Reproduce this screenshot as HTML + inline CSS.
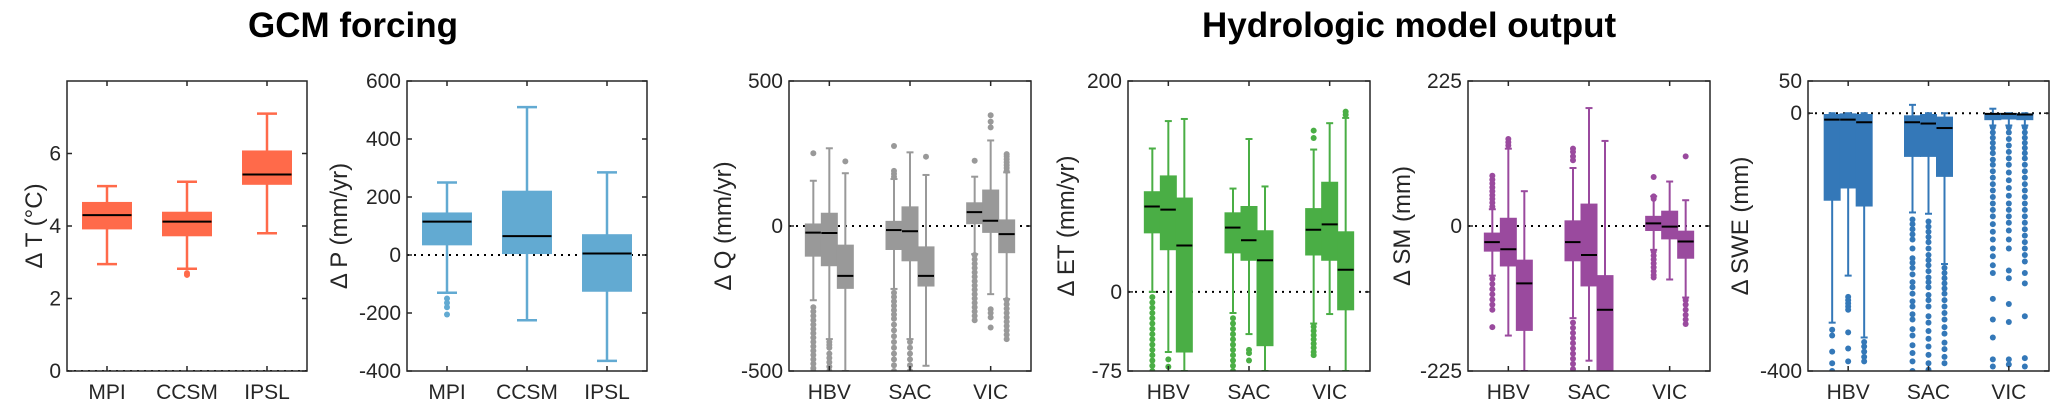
<!DOCTYPE html>
<html><head><meta charset="utf-8"><style>
html,body{margin:0;padding:0;background:#fff;}
svg{display:block;font-family:"Liberation Sans",Arial,sans-serif;}
</style></head><body>
<svg id="fig" width="2067" height="411" viewBox="0 0 2067 411">
<text x="248" y="37" font-size="35" font-weight="bold" fill="#000">GCM forcing</text>
<text x="1202" y="37" font-size="35" font-weight="bold" fill="#000">Hydrologic model output</text>
</svg>
<script>
// ---- data: each box = [lowerWhisker, q1, median, q3, upperWhisker] ----
const gcmCategories = ["MPI","CCSM","IPSL"];
const hydroCategories = ["HBV","SAC","VIC"];

const tStats = [[[2.95,3.92,4.3,4.65,5.1]],[[2.82,3.73,4.12,4.38,5.22]],[[3.8,5.15,5.42,6.07,7.1]]];
const tOut = [[[]],[[2.65,2.7]],[[]]];
const tTicks = [0,2,4,6];

const pStats = [[[-130,35,115,145,250]],[[-225,5,65,220,510]],[[-365,-125,5,70,285]]];
const pOut = [[[-150,-165,-180,-205]],[[]],[[]]];
const pTicks = [-400,-200,0,200,400,600];

const qStats = [
 [[-256,-104,-23,7,156],[-390,-137,-24,44,268],[-500,-215,-172,-66,182]],
 [[-217,-81,-14,16,162],[-390,-120,-18,66,254],[-482,-207,-172,-72,176]],
 [[-97,8,48,80,170],[-235,-22,18,124,295],[-252,-92,-28,21,185]]];
const qOut = [
 [[251,-280,-295,-310,-325,-340,-355,-370,-385,-400,-415,-430,-445,-460,-475,-490,-500],[-400,-410,-420,-440,-455,-470,-485,-500],[223]],
 [[276,170,180,190,-230,-245,-260,-275,-290,-305,-320,-340,-360,-380,-400,-420,-440,-460,-480,-500],[-400,-420,-440,-460,-480,-500],[239]],
 [[225,-100,-115,-130,-145,-160,-175,-190,-205,-220,-235,-250,-265,-280,-295,-310,-325],[382,360,340,-287,-300,-315,-350],[248,240,230,220,210,200,190,-255,-270,-285,-300,-315,-330,-345,-360,-375,-390]]];
const qTicks = [-500,0,500];

const etStats = [
 [[0,56,81,95,136],[-57,40,78,110,162],[-75,-57,44,89,164]],
 [[-20,37,61,75,98],[-40,30,49,81,145],[-75,-51,30,58,100]],
 [[-30,35,59,79,135],[-21,30,64,104,160],[-75,-17,21,57,165]]];
const etOut = [
 [[-5,-10,-15,-20,-25,-30,-35,-40,-45,-50,-55,-60,-65,-70,-75],[-64,-71],[]],
 [[-25,-30,-35,-40,-45,-50,-55,-60,-65,-70,-75],[-55,-58,-65],[]],
 [[153,146,-33,-37,-41,-45,-49,-53,-57,-60],[],[171,168]]];
const etTicks = [-75,0,200];

const smStats = [
 [[-77,-39,-25,-11,26],[-170,-62,-36,12,120],[-225,-162,-89,-53,54]],
 [[-143,-54,-25,8,90],[-209,-93,-45,34,183],[-225,-225,-130,-77,132]],
 [[-37,-7,4,15,46],[-83,-20,-1,23,69],[-111,-50,-24,-8,40]]];
const smOut = [
 [[78,72,66,60,54,48,42,36,30,-82,-90,-98,-106,-114,-122,-130,-157],[135,130,125],[]],
 [[120,115,108,102,-150,-158,-166,-174,-182,-190,-198,-206,-214,-222],[],[]],
 [[76,46,42,-40,-46,-52,-58,-64,-70,-76,-80],[],[108,-115,-122,-130,-138,-145,-152]]];
const smTicks = [-225,0,225];

const sweStats = [
 [[-325,-135,-10,-2,0],[-252,-116,-10,-1,0],[-348,-144,-14,-2,0]],
 [[-154,-67,-14,-4,13],[-156,-67,-16,-2,0],[-234,-98,-23,-6,0]],
 [[-19,-10,-1,-1,7],[-19,-9,-1,-1,0],[-19,-10,-2,-1,0]]];
const sweOut = [
 [[-336,-345,-370,-388,-400],[-285,-290,-295,-300,-305,-340,-365,-385],[-355,-362,-370,-378,-385]],
 [[-165,-172,-180,-188,-196,-210,-225,-232,-240,-250,-262,-270,-280,-292,-300,-312,-320,-335,-345,-360,-372,-385,-400],[-168,-176,-184,-192,-200,-210,-220,-228,-236,-245,-255,-262,-270,-282,-290,-300,-315,-325,-338,-350,-362,-375,-388,-398],[-240,-248,-256,-264,-272,-280,-290,-300,-310,-320,-332,-342,-356,-366,-378,-388]],
 [[-22,-30,-38,-46,-54,-62,-72,-80,-90,-100,-110,-120,-130,-140,-150,-160,-172,-184,-196,-210,-222,-236,-248,-288,-320,-348,-382,-393],[-22,-30,-40,-50,-60,-70,-80,-92,-104,-116,-128,-140,-150,-160,-170,-182,-196,-210,-244,-256,-296,-324,-382,-390],[-22,-30,-38,-46,-54,-62,-70,-80,-90,-100,-110,-120,-130,-140,-150,-160,-170,-180,-190,-200,-210,-220,-230,-248,-264,-315,-380,-393]]];
const sweTicks = [-400,0,50];

// ---- drawing ----
const NS = "http://www.w3.org/2000/svg";
const svg = document.getElementById("fig");
function mk(tag, attrs, parent){
  const e = document.createElementNS(NS, tag);
  for (const k in attrs) e.setAttribute(k, attrs[k]);
  (parent||svg).appendChild(e);
  return e;
}
let clipId = 0;
function panel(cfg, cats, stats, outs, ticks){
  const {x0,x1,y0,y1,ymin,ymax,color,name,ylabel,ylx,offs,bw,cap,lw} = cfg;
  const g = mk("g", {});
  
  
  const ys = v => y0 + (ymax - v) / (ymax - ymin) * (y1 - y0);
  const step = (x1 - x0) / cats.length;
  const xs = i => x0 + step * (i + 0.5);
  clipId++;
  const cp = mk("clipPath", {id: "c" + clipId}, g);
  mk("rect", {x: x0, y: y0, width: x1 - x0, height: y1 - y0}, cp);
  const plot = mk("g", {"clip-path": "url(#c" + clipId + ")"}, g);
  const zl = mk("line", {x1: x0, x2: x1, y1: ys(0), y2: ys(0), stroke: "#000", "stroke-width": 2, "stroke-dasharray": "2,5"}, plot);
  
  
  stats.forEach((cat, i) => {
    cat.forEach((b, j) => {
      const cx = xs(i) + offs[j];
      const bg = mk("g", {}, plot);
      
      
      mk("line", {x1: cx, x2: cx, y1: ys(b[0]), y2: ys(b[4]), stroke: color, "stroke-width": lw}, bg);
      mk("line", {x1: cx - cap/2, x2: cx + cap/2, y1: ys(b[0]), y2: ys(b[0]), stroke: color, "stroke-width": lw}, bg);
      mk("line", {x1: cx - cap/2, x2: cx + cap/2, y1: ys(b[4]), y2: ys(b[4]), stroke: color, "stroke-width": lw}, bg);
      mk("rect", {x: cx - bw/2, y: ys(b[3]), width: bw, height: Math.max(1, ys(b[1]) - ys(b[3])), fill: color, stroke: color, "stroke-width": 1}, bg);
      mk("line", {x1: cx - bw/2, x2: cx + bw/2, y1: ys(b[2]), y2: ys(b[2]), stroke: "#000", "stroke-width": 2}, bg);
      outs[i][j].forEach(v => {
        const c = mk("circle", {cx: cx, cy: ys(v), r: 3, fill: color}, bg);
        
        
      });
    });
  });
  const ax = mk("rect", {x: x0, y: y0, width: x1 - x0, height: y1 - y0, fill: "none", stroke: "#262626", "stroke-width": 1.5}, g);
  
  
  cats.forEach((c, i) => {
    const x = xs(i);
    mk("line", {x1: x, x2: x, y1: y1, y2: y1 - 5, stroke: "#262626", "stroke-width": 1.5}, g);
    mk("line", {x1: x, x2: x, y1: y0, y2: y0 + 5, stroke: "#262626", "stroke-width": 1.5}, g);
    const t = mk("text", {x: x, y: y1 + 28, "font-size": 21, "text-anchor": "middle", fill: "#262626"}, g);
    t.textContent = c;
    
    
  });
  ticks.forEach(v => {
    const y = ys(v);
    mk("line", {x1: x0, x2: x0 + 5, y1: y, y2: y, stroke: "#262626", "stroke-width": 1.5}, g);
    mk("line", {x1: x1, x2: x1 - 5, y1: y, y2: y, stroke: "#262626", "stroke-width": 1.5}, g);
    const t = mk("text", {x: x0 - 6, y: y + 7, "font-size": 21, "text-anchor": "end", fill: "#262626"}, g);
    t.textContent = String(v);
    
    
  });
  const yl = mk("text", {x: ylx, y: (y0 + y1) / 2, "font-size": 24, "text-anchor": "middle", fill: "#262626", transform: "rotate(-90 " + ylx + " " + (y0 + y1) / 2 + ")"}, g);
  yl.textContent = ylabel;
  
  
}
const Y0 = 81, Y1 = 371;
panel({x0:67,x1:307,y0:Y0,y1:Y1,ymin:0,ymax:8,color:"#FF6A4A",name:"temperature",ylabel:"\u0394 T (\u00B0C)",ylx:42,offs:[0],bw:49,cap:20,lw:2.5}, gcmCategories, tStats, tOut, tTicks);
panel({x0:407,x1:647,y0:Y0,y1:Y1,ymin:-400,ymax:600,color:"#62AAD2",name:"precipitation",ylabel:"\u0394 P (mm/yr)",ylx:347,offs:[0],bw:49,cap:20,lw:2.5}, gcmCategories, pStats, pOut, pTicks);
panel({x0:789,x1:1031,y0:Y0,y1:Y1,ymin:-500,ymax:500,color:"#999999",name:"runoff",ylabel:"\u0394 Q (mm/yr)",ylx:731,offs:[-16,0,16],bw:16,cap:7,lw:2}, hydroCategories, qStats, qOut, qTicks);
panel({x0:1128,x1:1370,y0:Y0,y1:Y1,ymin:-75,ymax:200,color:"#4AAE45",name:"evapotranspiration",ylabel:"\u0394 ET (mm/yr)",ylx:1074,offs:[-16,0,16],bw:16,cap:7,lw:2}, hydroCategories, etStats, etOut, etTicks);
panel({x0:1468,x1:1710,y0:Y0,y1:Y1,ymin:-225,ymax:225,color:"#9A4A9E",name:"soil-moisture",ylabel:"\u0394 SM (mm)",ylx:1410,offs:[-16,0,16],bw:16,cap:7,lw:2}, hydroCategories, smStats, smOut, smTicks);
panel({x0:1808,x1:2049,y0:Y0,y1:Y1,ymin:-400,ymax:50,color:"#3478B8",name:"snow-water-equivalent",ylabel:"\u0394 SWE (mm)",ylx:1748,offs:[-16,0,16],bw:16,cap:7,lw:2}, hydroCategories, sweStats, sweOut, sweTicks);
</script>
</body></html>
